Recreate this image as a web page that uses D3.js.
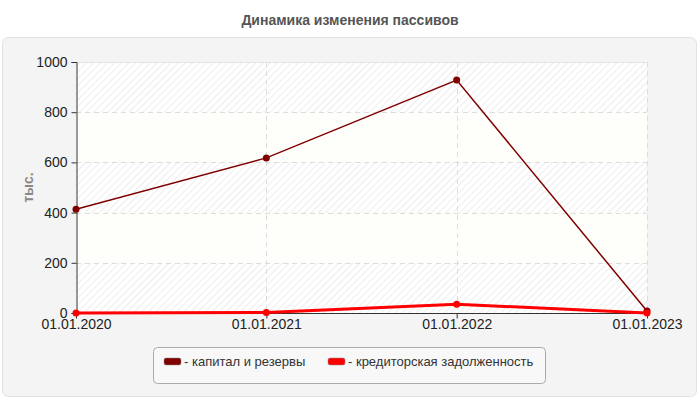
<!DOCTYPE html>
<html>
<head>
<meta charset="utf-8">
<script src="https://cdn.jsdelivr.net/npm/d3@7"></script>
<style>
body{margin:0;background:#fff;}
text{font-family:"Liberation Sans",Arial,sans-serif;}
</style>
</head>
<body>
<div id="chart"></div>
<script>
var dates = ["01.01.2020", "01.01.2021", "01.01.2022", "01.01.2023"];
var capital = [413, 618, 928, 8];
var credit = [0, 2, 35, 0];
var yTicks = [0, 200, 400, 600, 800, 1000];
var seriesNames = ["капитал и резервы", "кредиторская задолженность"];
var seriesColors = ["#800000", "#ff0000"];

var width = 700, height = 400;
var svg = d3.select("#chart").append("svg")
	.attr("width", width)
	.attr("height", height);

var defs = svg.append("defs");
var pat = defs.append("pattern")
	.attr("id", "hatch")
	.attr("patternUnits", "userSpaceOnUse")
	.attr("width", 5).attr("height", 5)
	.attr("patternTransform", "rotate(45)");
pat.append("rect").attr("width", 5).attr("height", 5).attr("fill", "#ffffff");
pat.append("line").attr("x1", 0).attr("y1", 0).attr("x2", 0).attr("y2", 5)
	.attr("stroke", "#ebebeb").attr("stroke-width", 1.8);

// panel
svg.append("rect")
	.attr("x", 2.5).attr("y", 37.5)
	.attr("width", 694).attr("height", 359)
	.attr("rx", 6)
	.attr("fill", "#f4f4f4")
	.attr("stroke", "#e2e2e2");

// title
svg.append("text")
	.attr("x", 350).attr("y", 25)
	.attr("text-anchor", "middle")
	.attr("font-size", 14).attr("font-weight", "bold")
	.attr("fill", "#555")
	.text("Динамика изменения пассивов");

var pLeft = 76, pRight = 647, pTop = 62, pBottom = 313;

var x = d3.scalePoint().domain(dates).range([pLeft, pRight]);
var y = d3.scaleLinear().domain([0, 1000]).range([pBottom, pTop]);

// alternating bands
var bands = d3.pairs(yTicks);
svg.append("g").selectAll("rect")
	.data(bands).enter().append("rect")
	.attr("x", pLeft).attr("width", pRight - pLeft)
	.attr("y", function(d){ return y(d[1]); })
	.attr("height", function(d){ return y(d[0]) - y(d[1]); })
	.attr("fill", function(d, i){ return i % 2 === 0 ? "url(#hatch)" : "#fefefa"; });

// grid
svg.append("g").selectAll("line")
	.data(yTicks.filter(function(d){ return d > 0; }))
	.enter().append("line")
	.attr("x1", pLeft).attr("x2", pRight)
	.attr("y1", function(d){ return Math.round(y(d)) + 0.5; })
	.attr("y2", function(d){ return Math.round(y(d)) + 0.5; })
	.attr("stroke", function(d){ return d === 1000 ? "#e4e4e4" : "#dddddd"; })
	.attr("stroke-dasharray", function(d){ return d === 1000 ? null : "5,4"; });
svg.append("g").selectAll("line")
	.data(dates.slice(1))
	.enter().append("line")
	.attr("x1", function(d){ return Math.round(x(d)) + 0.5; })
	.attr("x2", function(d){ return Math.round(x(d)) + 0.5; })
	.attr("y1", pTop).attr("y2", pBottom)
	.attr("stroke", "#dddddd").attr("stroke-dasharray", "5,4");

// axes
var axisY = d3.axisLeft(y).tickValues(yTicks).tickFormat(d3.format("d")).tickSize(5).tickPadding(4);
var gy = svg.append("g").attr("transform", "translate(" + (pLeft + 0.5) + ",0)").call(axisY);
var axisX = d3.axisBottom(x).tickSize(5).tickPadding(1);
var gx = svg.append("g").attr("transform", "translate(0," + (pBottom + 0.5) + ")").call(axisX);
[gy, gx].forEach(function(g){
	g.select(".domain").attr("stroke", "#333");
	g.selectAll(".tick line").attr("stroke", "#333");
	g.selectAll(".tick text").attr("font-size", 14).attr("fill", "#222")
		.attr("font-family", "'Liberation Sans', Arial, sans-serif");
});
gx.select(".domain").attr("d", "M" + pLeft + ",0H" + pRight);

// y label
svg.append("text")
	.attr("transform", "translate(33," + ((pTop + pBottom) / 2) + ") rotate(-90)")
	.attr("text-anchor", "middle")
	.attr("font-size", 14).attr("font-weight", "bold")
	.attr("fill", "#888")
	.text("тыс.");

// lines
var line = d3.line()
	.x(function(d, i){ return x(dates[i]); })
	.y(function(d){ return y(d); });

svg.append("path").datum(credit)
	.attr("d", line).attr("fill", "none")
	.attr("stroke", seriesColors[1]).attr("stroke-width", 3);
svg.append("path").datum(capital)
	.attr("d", line).attr("fill", "none")
	.attr("stroke", seriesColors[0]).attr("stroke-width", 1.5);

svg.append("g").selectAll("circle")
	.data(capital).enter().append("circle")
	.attr("cx", function(d, i){ return x(dates[i]); })
	.attr("cy", function(d){ return y(d); })
	.attr("r", 3.5).attr("fill", seriesColors[0]);
svg.append("g").selectAll("circle")
	.data(credit).enter().append("circle")
	.attr("cx", function(d, i){ return x(dates[i]); })
	.attr("cy", function(d){ return y(d); })
	.attr("r", 3.5).attr("fill", seriesColors[1]);

// legend
var lg = svg.append("g");
lg.append("rect")
	.attr("x", 153.5).attr("y", 347.5)
	.attr("width", 392).attr("height", 36)
	.attr("rx", 4)
	.attr("fill", "#f8f8f8").attr("stroke", "#aaaaaa");
var legX = [164, 328];
seriesNames.forEach(function(n, i){
	lg.append("rect")
		.attr("x", legX[i]).attr("y", 358)
		.attr("width", 17).attr("height", 7).attr("rx", 2)
		.attr("fill", seriesColors[i]).attr("stroke", "#888").attr("stroke-width", 0.5);
	lg.append("text")
		.attr("x", legX[i] + 20).attr("y", 366)
		.attr("font-size", 13).attr("fill", "#333")
		.text("- " + n);
});
</script>
</body>
</html>
